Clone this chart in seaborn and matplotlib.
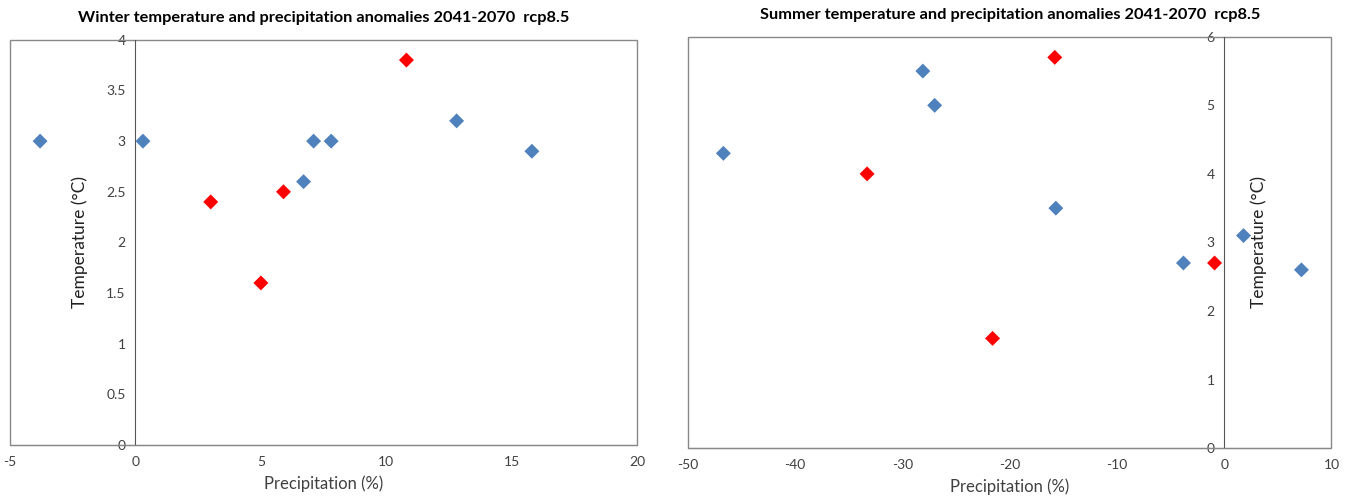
"""Winter and summer temperature / precipitation anomalies 2041-2070 rcp8.5."""

import matplotlib.pyplot as plt
import pandas as pd
import seaborn as sns
from matplotlib.patches import Rectangle

# winter values
winter_precip = [-3.8, 0.3, 6.7, 7.1, 7.8, 12.8, 15.8, 3.0, 5.0, 5.9, 10.8]
winter_temp = [3.0, 3.0, 2.6, 3.0, 3.0, 3.2, 2.9, 2.4, 1.6, 2.5, 3.8]
winter_group = ["other"] * 7 + ["selected"] * 4

# summer values
summer_precip = [-46.7, -28.1, -27.0, -15.7, -3.8, 1.8, 7.2, -33.3, -21.6, -15.8, -0.9]
summer_temp = [4.3, 5.5, 5.0, 3.5, 2.7, 3.1, 2.6, 4.0, 1.6, 5.7, 2.7]
summer_group = ["other"] * 7 + ["selected"] * 4

PALETTE = {"other": "#4F81BD", "selected": "#FF0000"}
FRAME = "#888888"
TEXT = "#404040"

sns.set_style("white")
plt.rcParams["font.family"] = ["Lato", "DejaVu Sans"]


def draw(ax, precip, temp, group, xlim, ylim, xticks, yticks, title, ylabel_x):
    df = pd.DataFrame({"precip": precip, "temp": temp, "group": group})
    sns.scatterplot(data=df, x="precip", y="temp", hue="group", palette=PALETTE,
                    marker="D", s=58, linewidth=0, legend=False, ax=ax, zorder=5)
    ax.set_xlim(*xlim)
    ax.set_ylim(*ylim)
    ax.set_xticks(xticks)
    ax.set_yticks(yticks)
    ax.set_xticklabels([f"{t:g}" for t in xticks])
    ax.set_yticklabels([f"{t:g}" for t in yticks])

    # y axis crosses at precipitation 0
    for side in ["top", "right"]:
        ax.spines[side].set_visible(False)
    ax.spines["left"].set_position(("data", 0))
    ax.spines["left"].set_color("#555555")
    ax.spines["bottom"].set_color(FRAME)
    ax.add_patch(Rectangle((0, 0), 1, 1, transform=ax.transAxes, fill=False,
                           edgecolor=FRAME, linewidth=1, clip_on=False, zorder=1))

    ax.tick_params(axis="x", direction="in", length=4, color=FRAME,
                   labelcolor=TEXT, labelsize=10, pad=8)
    ax.tick_params(axis="y", direction="out", length=5, color="#555555",
                   labelcolor=TEXT, labelsize=10, pad=2)

    ax.set_xlabel("Precipitation (%)", fontsize=12, color=TEXT, labelpad=5)
    ax.set_ylabel("Temperature (°C)", fontsize=12.5, color="#202020")
    ax.yaxis.set_label_coords(ylabel_x, 0.5)
    ax.set_title(title, fontsize=11.8, fontweight="bold", color="black", pad=13)


fig = plt.figure(figsize=(13.49, 5.04), dpi=100)
ax1 = fig.add_axes([0.0074, 0.117, 0.465, 0.804])
ax2 = fig.add_axes([0.510, 0.111, 0.477, 0.816])

draw(ax1, winter_precip, winter_temp, winter_group, (-5, 20), (0, 4),
     [-5, 0, 5, 10, 15, 20], [0, 0.5, 1, 1.5, 2, 2.5, 3, 3.5, 4],
     "Winter temperature and precipitation anomalies 2041-2070  rcp8.5", 0.125)
draw(ax2, summer_precip, summer_temp, summer_group, (-50, 10), (0, 6),
     [-50, -40, -30, -20, -10, 0, 10], [0, 1, 2, 3, 4, 5, 6],
     "Summer temperature and precipitation anomalies 2041-2070  rcp8.5", 0.90)

fig.savefig("out.png", dpi=100)
plt.close(fig)
